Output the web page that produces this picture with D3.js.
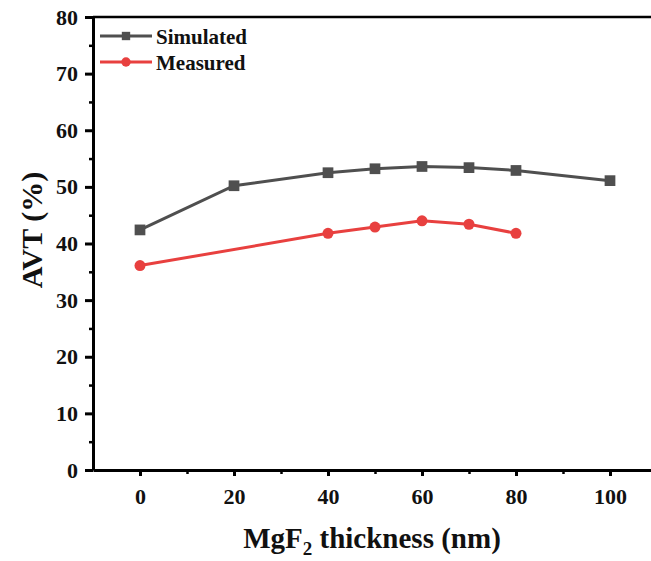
<!DOCTYPE html>
<html>
  <head>
    <meta charset="utf-8" />
    <title>AVT vs MgF2 thickness</title>
    <script src="https://d3js.org/d3.v7.min.js"></script>
    <style>
      body {
        margin: 0;
        background: #fff;
      }
    </style>
  </head>
  <body>

    <svg id="chart"></svg>

    <script>

      // data
      var simThickness = [0, 20, 40, 50, 60, 70, 80, 100];
      var simAVT = [42.4, 50.2, 52.5, 53.2, 53.6, 53.4, 52.9, 51.1];

      var measThickness = [0, 40, 50, 60, 70, 80];
      var measAVT = [36.1, 41.8, 42.9, 44.0, 43.4, 41.8];

      var seriesNames = ["Simulated", "Measured"];
      var seriesColors = ["#4f4f4f", "#e8403f"];

      var xTicks = [0, 20, 40, 60, 80, 100];
      var xMinorTicks = [10, 30, 50, 70, 90];
      var yTicks = [0, 10, 20, 30, 40, 50, 60, 70, 80];
      var yMinorTicks = [5, 15, 25, 35, 45, 55, 65, 75];

      var serif = "'Liberation Serif', serif";

      var width = 651;
      var height = 561;
      var margin = {top: 17, left: 93, bottom: 91};

      var svg = d3.select("#chart")
        .attr("width", width)
        .attr("height", height);

      // the plot frame runs past the right edge of the picture
      var x = d3.scaleLinear()
        .domain([-10, 110])
        .range([margin.left, 657]);

      var y = d3.scaleLinear()
        .domain([0, 80])
        .range([height - margin.bottom, margin.top]);

      function styleText(sel, size) {
        sel.style("font-family", serif)
          .style("font-weight", "bold")
          .style("font-size", size)
          .attr("fill", "#111");
      }

      // top border
      svg.append("line")
        .attr("x1", x(-10)).attr("x2", x(110))
        .attr("y1", y(80)).attr("y2", y(80))
        .attr("stroke", "#000")
        .attr("stroke-width", 2.5);

      // minor ticks
      svg.append("g")
        .attr("transform", "translate(" + x(-10) + ",0)")
        .call(d3.axisLeft(y).tickValues(yMinorTicks).tickSize(4).tickFormat(""))
        .call(function(g) { g.select(".domain").remove(); })
        .selectAll("line").attr("stroke-width", 2.5);

      svg.append("g")
        .attr("transform", "translate(0," + y(0) + ")")
        .call(d3.axisBottom(x).tickValues(xMinorTicks).tickSize(4).tickFormat(""))
        .call(function(g) { g.select(".domain").remove(); })
        .selectAll("line").attr("stroke-width", 2.5);

      // main axes
      var yAxis = svg.append("g")
        .attr("transform", "translate(" + x(-10) + ",0)")
        .call(d3.axisLeft(y).tickValues(yTicks).tickSize(8).tickSizeOuter(0).tickPadding(7));

      var xAxis = svg.append("g")
        .attr("transform", "translate(0," + y(0) + ")")
        .call(d3.axisBottom(x).tickValues(xTicks).tickSize(6).tickSizeOuter(0).tickPadding(12));

      [yAxis, xAxis].forEach(function(g) {
        g.select(".domain").attr("stroke-width", 3);
        g.selectAll(".tick line").attr("stroke-width", 3);
        styleText(g.selectAll(".tick text"), "22px");
      });

      // axis titles
      svg.append("text")
        .attr("transform", "translate(42,230) rotate(-90)")
        .attr("text-anchor", "middle")
        .call(styleText, "30px")
        .text("AVT (%)");

      var xTitle = svg.append("text")
        .attr("x", 372)
        .attr("y", 548)
        .attr("text-anchor", "middle")
        .call(styleText, "29px");
      xTitle.append("tspan").text("MgF");
      xTitle.append("tspan").style("font-size", "19px").attr("dy", "7").text("2");
      xTitle.append("tspan").attr("dy", "-7").text(" thickness (nm)");

      // series
      var series = [
        {name: seriesNames[0], color: seriesColors[0], xs: simThickness, ys: simAVT, shape: "square"},
        {name: seriesNames[1], color: seriesColors[1], xs: measThickness, ys: measAVT, shape: "circle"}
      ];

      var line = d3.line()
        .x(function(d) { return x(d[0]); })
        .y(function(d) { return y(d[1]); });

      series.forEach(function(s) {
        var pts = s.xs.map(function(v, i) { return [v, s.ys[i]]; });

        svg.append("path")
          .datum(pts)
          .attr("d", line)
          .attr("fill", "none")
          .attr("stroke", s.color)
          .attr("stroke-width", 3);

        var sym = d3.symbol()
          .type(s.shape == "square" ? d3.symbolSquare : d3.symbolCircle)
          .size(s.shape == "square" ? 115 : 95);

        svg.selectAll(null)
          .data(pts)
          .enter().append("path")
          .attr("d", sym)
          .attr("transform", function(d) {
            return "translate(" + x(d[0]) + "," + y(d[1]) + ")";
          })
          .attr("fill", s.color);
      });

      // legend
      var legend = svg.append("g");
      series.forEach(function(s, i) {
        var ly = 36 + i * 26;
        legend.append("line")
          .attr("x1", 100).attr("x2", 152)
          .attr("y1", ly).attr("y2", ly)
          .attr("stroke", s.color)
          .attr("stroke-width", 3);
        legend.append("path")
          .attr("d", d3.symbol()
            .type(s.shape == "square" ? d3.symbolSquare : d3.symbolCircle)
            .size(70))
          .attr("transform", "translate(126," + ly + ")")
          .attr("fill", s.color);
        legend.append("text")
          .attr("x", 156)
          .attr("y", ly + 8)
          .call(styleText, "21px")
          .text(s.name);
      });

    </script>

  </body>
</html>
